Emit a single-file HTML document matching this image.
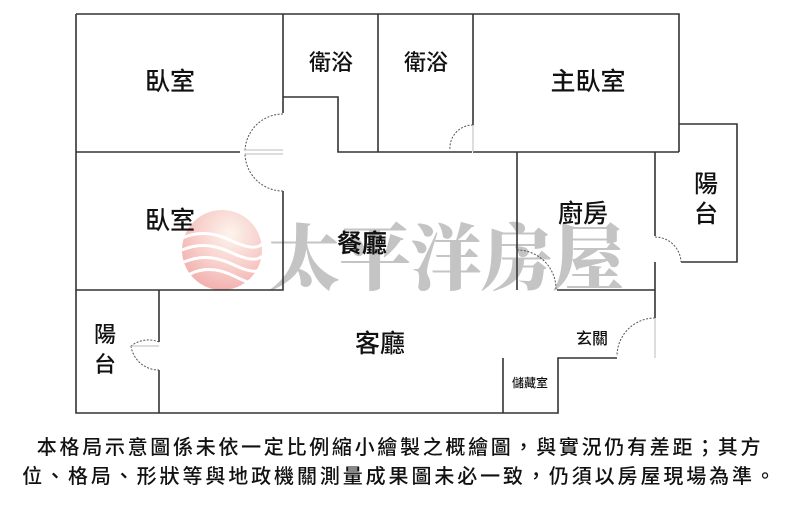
<!DOCTYPE html>
<html><head><meta charset="utf-8"><style>
html,body{margin:0;padding:0;background:#fff;}
svg{display:block}
</style></head><body>
<svg width="800" height="505" viewBox="0 0 800 505" xmlns="http://www.w3.org/2000/svg">
<defs>
<radialGradient id="g" cx="0.6" cy="0.3" r="0.8">
<stop offset="0" stop-color="#fdf3ea"/>
<stop offset="0.6" stop-color="#f6c0bc"/>
<stop offset="1" stop-color="#ef9a98"/>
</radialGradient>
</defs>
<g opacity="0.85">
<circle cx="222" cy="250" r="40" fill="url(#g)"/>
<g fill="none" stroke="#fff" stroke-width="3">
<path d="M182 238 Q205 228 230 240 T262 244"/>
<path d="M182 250 Q205 240 230 252 T262 256"/>
<path d="M184 262 Q207 252 232 264 T260 268"/>
<path d="M190 274 Q210 264 234 276 T255 280"/>
</g>
</g>
<text x="268" y="284" font-family="'Noto Serif CJK SC','Liberation Serif',serif" font-weight="900" font-size="72" fill="#c4c4c4" letter-spacing="-1">太平洋房屋</text>

<g stroke="#333" stroke-width="1.6" fill="none">
<path d="M76 14 H679 V152"/>
<path d="M76 14 V413 H558 V358 H617"/>
<path d="M76 152 H240"/>
<path d="M283 14 V113"/>
<path d="M283 191 V290 H76"/>
<path d="M283 97 H338 V152 H472"/>
<path d="M378 14 V152"/>
<path d="M473 14 V125"/>
<path d="M473 152 H679"/>
<path d="M517 152 V290"/>
<path d="M557 290 H655"/>
<path d="M655 152 V236"/>
<path d="M655 262 V318"/>
<path d="M679 124 H737 V262 H681"/>
<path d="M503 358 V413"/>
<path d="M159 290 V342"/>
<path d="M159 370 V413"/>
</g>
<g stroke="#555" stroke-width="1" fill="none" stroke-dasharray="2,1.5">
<path d="M283 114 A38 38 0 0 0 245 152"/>
<path d="M283 191 A38 38 0 0 1 245 153"/>
<path d="M473 125 A23 23 0 0 0 450 150"/>
<path d="M517 250 A39 39 0 0 1 556 290"/>
<path d="M655 237 A26 26 0 0 1 681 262"/>
<path d="M655 318 A38 38 0 0 0 617 356"/>
<path d="M159 342 A28 28 0 0 0 131 346 M131 346 A28 28 0 0 0 159 370"/>
</g>
<g stroke="#bbb" stroke-width="1" fill="none">
<path d="M245 150 H283 M245 154 H283"/>
<path d="M131 346 H159"/>
<path d="M655 318 V358"/>
<path d="M473 125 V152"/>
</g>
<g font-family="'Liberation Sans','Noto Sans CJK TC',sans-serif" fill="#111" text-anchor="middle" font-weight="500">
<text x="170" y="90" font-size="25">臥室</text>
<text x="170" y="229" font-size="25">臥室</text>
<text x="331" y="70" font-size="22">衛浴</text>
<text x="426" y="70" font-size="22">衛浴</text>
<text x="588" y="90" font-size="25">主臥室</text>
<text x="583" y="222" font-size="25">廚房</text>
<text x="706" y="192" font-size="24">陽</text>
<text x="706" y="222" font-size="24">台</text>
<text x="105" y="342" font-size="22">陽</text>
<text x="105" y="372" font-size="22">台</text>
<text x="362" y="252" font-size="25" font-weight="bold">餐廳</text>
<text x="380" y="352" font-size="25">客廳</text>
<text x="592" y="344" font-size="16">玄關</text>
<text x="530" y="387" font-size="12">儲藏室</text>
</g>
<g font-family="'Liberation Sans','Noto Sans CJK TC',sans-serif" fill="#111" font-size="20" text-anchor="middle" font-weight="500">
<text x="400" y="454" letter-spacing="2.7">本格局示意圖係未依一定比例縮小繪製之概繪圖，與實況仍有差距；其方</text>
<text x="400" y="483" letter-spacing="2.9">位、格局、形狀等與地政機關測量成果圖未必一致，仍須以房屋現場為準。</text>
</g>
</svg>
</body></html>
